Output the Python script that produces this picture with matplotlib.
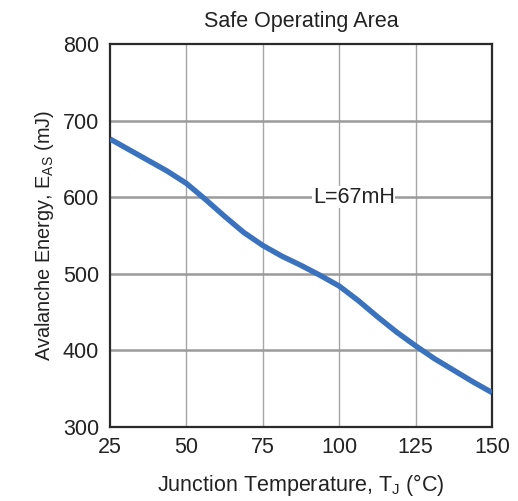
import matplotlib
matplotlib.use("Agg")
import matplotlib.pyplot as plt

plt.rcParams['font.family'] = ['Liberation Sans', 'DejaVu Sans']
plt.rcParams['mathtext.fontset'] = 'custom'
plt.rcParams['mathtext.rm'] = 'Liberation Sans'
plt.rcParams['mathtext.it'] = 'Liberation Sans'

# Avalanche energy vs junction temperature (L = 67 mH)
temp_c = [25, 31.25, 37.5, 43.75, 50, 56.25, 62.5, 68.75, 75, 81.25, 87.5,
          93.75, 100, 106.25, 112.5, 118.75, 125, 131.25, 137.5, 143.75, 150]
energy_mj = [676, 662, 648, 634, 618, 597, 575, 554, 537, 523, 511,
             498, 484, 465, 444, 424, 406, 389, 374, 359, 345]

x_ticks = [25, 50, 75, 100, 125, 150]
y_ticks = [300, 400, 500, 600, 700, 800]

fig = plt.figure(figsize=(5.18, 5.01), dpi=100)
ax = fig.add_axes([0.2124, 0.1477, 0.7374, 0.7645])

for t in x_ticks[1:-1]:
    ax.axvline(t, color='#a6a6a6', lw=1.0, zorder=1)
for e in y_ticks[1:-1]:
    ax.axhline(e, color='#9a9a9a', lw=1.8, zorder=1)

ax.plot(temp_c, energy_mj, color='#3b72bd', lw=3.9, solid_joinstyle='round',
        solid_capstyle='butt', zorder=3)

ax.text(104.8, 600, 'L=67mH', fontsize=15.5, ha='center', va='center', color='#222222',
        bbox=dict(facecolor='white', edgecolor='none', pad=0.5), zorder=2)

ax.set_xlim(25, 150)
ax.set_ylim(300, 800)
ax.set_xticks(x_ticks)
ax.set_yticks(y_ticks)
ax.tick_params(length=0, labelsize=15.5, colors='#222222')
ax.tick_params(axis='x', pad=7)
ax.tick_params(axis='y', pad=8)
for s in ax.spines.values():
    s.set_linewidth(1.6)
    s.set_color('#2a2a2a')

ax.set_title('Safe Operating Area', fontsize=15.5, color='#222222', pad=12)
ax.set_xlabel(r'Junction Temperature, T$_\mathrm{J}$ (°C)', fontsize=15.5, color='#222222', labelpad=10)
ax.set_ylabel(r'Avalanche Energy, E$_\mathrm{AS}$ (mJ)', fontsize=14.3, color='#222222', labelpad=5)

fig.savefig('out.png', dpi=100, facecolor='white')
